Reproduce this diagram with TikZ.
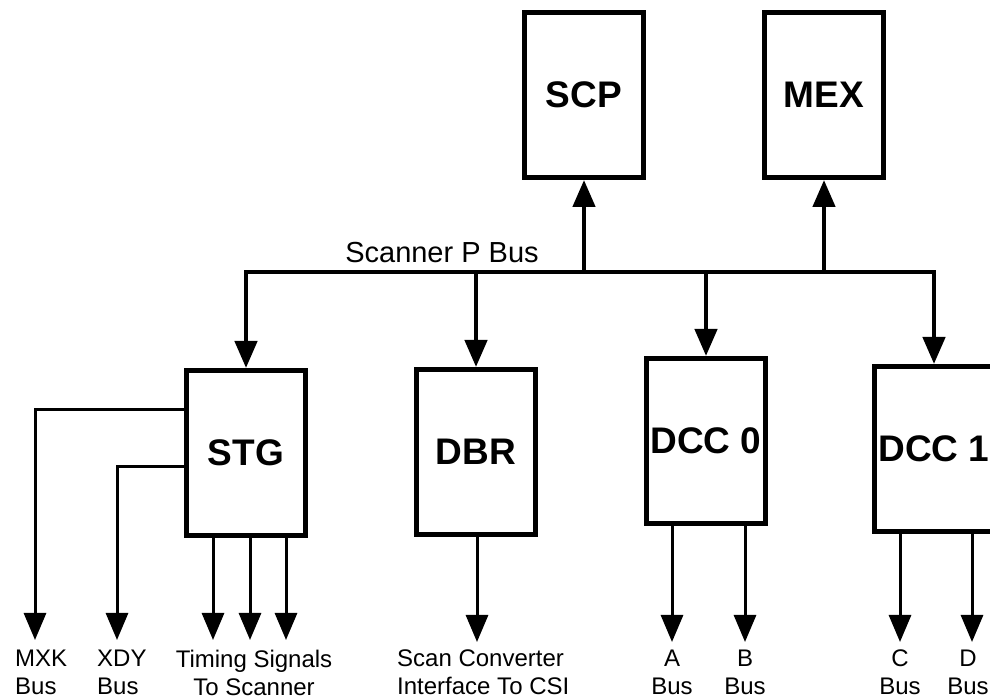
\documentclass[tikz,border=0pt]{standalone}
\usepackage{fontspec}
\setmainfont{Liberation Sans}
\usetikzlibrary{arrows.meta,positioning}
\tikzset{
  unit/.style={draw, line width=5pt, minimum width=119pt, minimum height=165pt,
    inner sep=0pt, font=\fontsize{37}{44}\selectfont\bfseries},
  busline/.style={line width=4.5pt, line cap=rect},
  wire/.style={line width=4.5pt, -{Triangle[length=27pt,width=22pt]}},
  sig/.style={line width=3pt, -{Triangle[length=27pt,width=22pt]}},
  lbl/.style={inner sep=0pt, font=\fontsize{24}{28}\selectfont},
}
\begin{document}
\begin{tikzpicture}[x=1pt, y=1pt]
    \useasboundingbox (0,0) rectangle (990,700);
    \node[unit] (scp) at (584,605) {SCP};
    \path (scp) ++ (240,0) node[unit] (mex) {MEX};
    \node[unit] (stg) at (246,247) {STG};
    \path (stg) ++ (230,1) node[unit] (dbr) {DBR};
    \path (dbr) ++ (230,11) node[unit] (dcc0) {DCC 0};
    \path (dcc0) ++ (228,-8) node[unit] (dcc1) {DCC 1};
    \coordinate (bus) at (0,428);
    \node[inner sep=0pt, font=\fontsize{29}{34}\selectfont] (pbus) at (442,447) {Scanner P Bus};
    \draw[busline] (stg.north |- bus) -- (dcc1.north |- bus);
    \foreach \u in {scp,mex}
        \draw[wire] (\u.south |- bus) -- (\u.south);
    \foreach \u in {stg,dbr,dcc0,dcc1}
        \draw[wire] (\u.north |- bus) -- (\u.north);
    \coordinate (mxk) at (35,60);
    \coordinate (xdy) at (117,60);
    \path (stg.west) ++ (0,43) coordinate (mxk0);
    \path (stg.west) ++ (0,-14) coordinate (xdy0);
    \draw[sig] (mxk0) -| (mxk);
    \draw[sig] (xdy0) -| (xdy);
    \foreach \x [count=\i] in {213,250,286} {
        \coordinate (tm\i) at (\x,60);
        \draw[sig] (tm\i |- stg.south) -- (tm\i);
    }
    \coordinate (csi) at (477,58);
    \draw[sig] (csi |- dbr.south) -- (csi);
    \coordinate (abus) at (672,58);
    \coordinate (bbus) at (745,58);
    \coordinate (cbus) at (900,58);
    \coordinate (dbus) at (972,58);
    \draw[sig] (abus |- dcc0.south) -- (abus);
    \draw[sig] (bbus |- dcc0.south) -- (bbus);
    \draw[sig] (cbus |- dcc1.south) -- (cbus);
    \draw[sig] (dbus |- dcc1.south) -- (dbus);
    \node[lbl, anchor=north west, align=left] (mxkl) at (15,50) {MXK\\Bus};
    \node[lbl, anchor=north west, align=left] (xdyl) at (97,50) {XDY\\Bus};
    \node[lbl, anchor=north, align=center] (tml) at (254,50) {Timing Signals\\To Scanner};
    \node[lbl, anchor=north west, align=left] (csil) at (397,50) {Scan Converter\\Interface To CSI};
    \node[lbl, anchor=north, align=center] (al) at (672,50) {A\\Bus};
    \node[lbl, anchor=north, align=center] (bl) at (745,50) {B\\Bus};
    \node[lbl, anchor=north, align=center] (cl) at (900,50) {C\\Bus};
    \node[lbl, anchor=north, align=center] (dl) at (968,50) {D\\Bus};
\end{tikzpicture}
\end{document}
